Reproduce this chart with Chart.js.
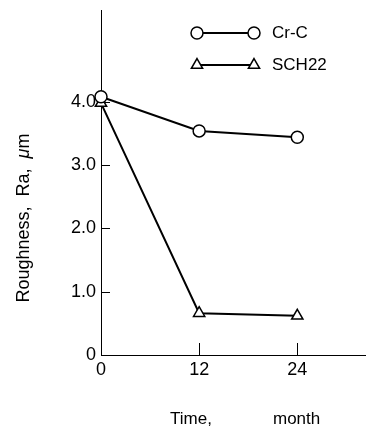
<!DOCTYPE html>
<html>
<head>
<meta charset="utf-8">
<script src="https://cdn.jsdelivr.net/npm/chart.js@4/dist/chart.umd.min.js"></script>
<style>
html, body { margin: 0; padding: 0; background: #fff; }
canvas { display: block; }
</style>
</head>
<body>
<canvas id="roughChart" width="366" height="430"></canvas>
<script>
// values
var months = [0, 12, 24];
var crcValues = [4.08, 3.54, 3.44];
var sch22Values = [3.98, 0.66, 0.62];
var seriesNames = ["Cr-C", "SCH22"];
var seriesMarkers = ["circle", "triangle"];
var xTickValues = [0, 12, 24];
var yTickValues = [0, 1, 2, 3, 4];
var yTickLabels = ["0", "1.0", "2.0", "3.0", "4.0"];
var xTitleParts = ["Time,", "month"];
var yTitleParts = ["Roughness,  Ra,  ", "\u03bc", "m"];

var FONT = "'Liberation Sans', Arial, sans-serif";
var INK = "#000";

function toPoints(vals) {
    return months.map(function (m, i) { return { x: m, y: vals[i] }; });
}

function makeSet(label, vals, marker) {
    return {
        label: label,
        data: toPoints(vals),
        borderColor: INK,
        borderWidth: 2,
        pointStyle: marker,
        pointRadius: marker == "triangle" ? 6.5 : 6,
        pointBorderWidth: 1.5,
        pointBorderColor: INK,
        pointBackgroundColor: "#fff",
        showLine: true,
        tension: 0,
        clip: false
    };
}

function noPad(s) {
    s.paddingTop = 0;
    s.paddingBottom = 0;
    s.paddingLeft = 0;
    s.paddingRight = 0;
}

// inner tick marks, axis titles and the legend box
var extras = {
    id: "extras",
    afterDraw: function (chart) {
        var ctx = chart.ctx;
        var xs = chart.scales.x, ys = chart.scales.y;
        var area = chart.chartArea;
        ctx.save();
        ctx.strokeStyle = INK;
        ctx.lineWidth = 1;
        ctx.beginPath();
        for (var i = 1; i < yTickValues.length; i++) {
            var py = Math.round(ys.getPixelForValue(yTickValues[i])) + 0.5;
            ctx.moveTo(area.left, py);
            ctx.lineTo(area.left + 9, py);
        }
        for (var j = 1; j < xTickValues.length; j++) {
            var px = Math.round(xs.getPixelForValue(xTickValues[j])) + 0.5;
            ctx.moveTo(px, area.bottom);
            ctx.lineTo(px, area.bottom - 12);
        }
        ctx.stroke();

        // y title, with an italic mu
        ctx.fillStyle = INK;
        ctx.textBaseline = "middle";
        ctx.textAlign = "left";
        var plain = "17px " + FONT;
        var yPlain = "18px " + FONT, yItal = "italic 18px " + FONT;
        ctx.font = yPlain;
        var w0 = ctx.measureText(yTitleParts[0]).width;
        var w2 = ctx.measureText(yTitleParts[2]).width;
        ctx.font = yItal;
        var w1 = ctx.measureText(yTitleParts[1]).width;
        var total = w0 + w1 + w2;
        ctx.save();
        ctx.translate(24, 218);
        ctx.rotate(-Math.PI / 2);
        var sx = -total / 2;
        ctx.font = yPlain;
        ctx.fillText(yTitleParts[0], sx, 0);
        ctx.font = yItal;
        ctx.fillText(yTitleParts[1], sx + w0, 0);
        ctx.font = yPlain;
        ctx.fillText(yTitleParts[2], sx + w0 + w1, 0);
        ctx.restore();

        // x title
        ctx.font = plain;
        ctx.fillText(xTitleParts[0], 170, 419);
        ctx.fillText(xTitleParts[1], 273, 419);

        // legend
        var rows = [33, 65];
        chart.data.datasets.forEach(function (ds, k) {
            var y = rows[k];
            ctx.lineWidth = 2;
            ctx.beginPath();
            ctx.moveTo(197, y);
            ctx.lineTo(254, y);
            ctx.stroke();
            var opts = {
                pointStyle: ds.pointStyle,
                radius: ds.pointRadius,
                borderWidth: ds.pointBorderWidth,
                rotation: 0
            };
            ctx.lineWidth = ds.pointBorderWidth;
            ctx.fillStyle = "#fff";
            Chart.helpers.drawPoint(ctx, opts, 197, y);
            Chart.helpers.drawPoint(ctx, opts, 254, y);
            ctx.fillStyle = INK;
            ctx.font = plain;
            ctx.fillText(ds.label, 272, y);
        });
        ctx.restore();
    }
};

var ctxR = document.getElementById("roughChart").getContext("2d");
var roughChart = new Chart(ctxR, {
    type: "scatter",
    data: {
        datasets: [
            makeSet(seriesNames[0], crcValues, seriesMarkers[0]),
            makeSet(seriesNames[1], sch22Values, seriesMarkers[1])
        ]
    },
    options: {
        responsive: false,
        animation: false,
        layout: { autoPadding: false, padding: { top: 10, right: 0, bottom: 0, left: 0 } },
        plugins: {
            legend: { display: false },
            tooltip: { enabled: false }
        },
        scales: {
            x: {
                type: "linear",
                min: 0,
                max: 32.4,
                afterFit: function (s) { s.height = 75; noPad(s); },
                afterBuildTicks: function (s) {
                    s.ticks = xTickValues.map(function (v) { return { value: v }; });
                },
                grid: { display: false, drawTicks: false, tickLength: 0 },
                border: { display: true, color: INK, width: 1 },
                ticks: {
                    color: INK,
                    padding: 4,
                    maxRotation: 0,
                    font: { family: FONT, size: 18 },
                    callback: function (v) { return String(v); }
                }
            },
            y: {
                min: 0,
                max: 5.45,
                afterFit: function (s) { s.width = 101; noPad(s); },
                afterBuildTicks: function (s) {
                    s.ticks = yTickValues.map(function (v) { return { value: v }; });
                },
                grid: { display: false, drawTicks: false, tickLength: 0 },
                border: { display: true, color: INK, width: 1 },
                ticks: {
                    color: INK,
                    padding: 5,
                    font: { family: FONT, size: 18 },
                    callback: function (v) {
                        var idx = yTickValues.indexOf(v);
                        return idx >= 0 ? yTickLabels[idx] : "";
                    }
                }
            }
        }
    },
    plugins: [extras]
});
</script>
</body>
</html>
